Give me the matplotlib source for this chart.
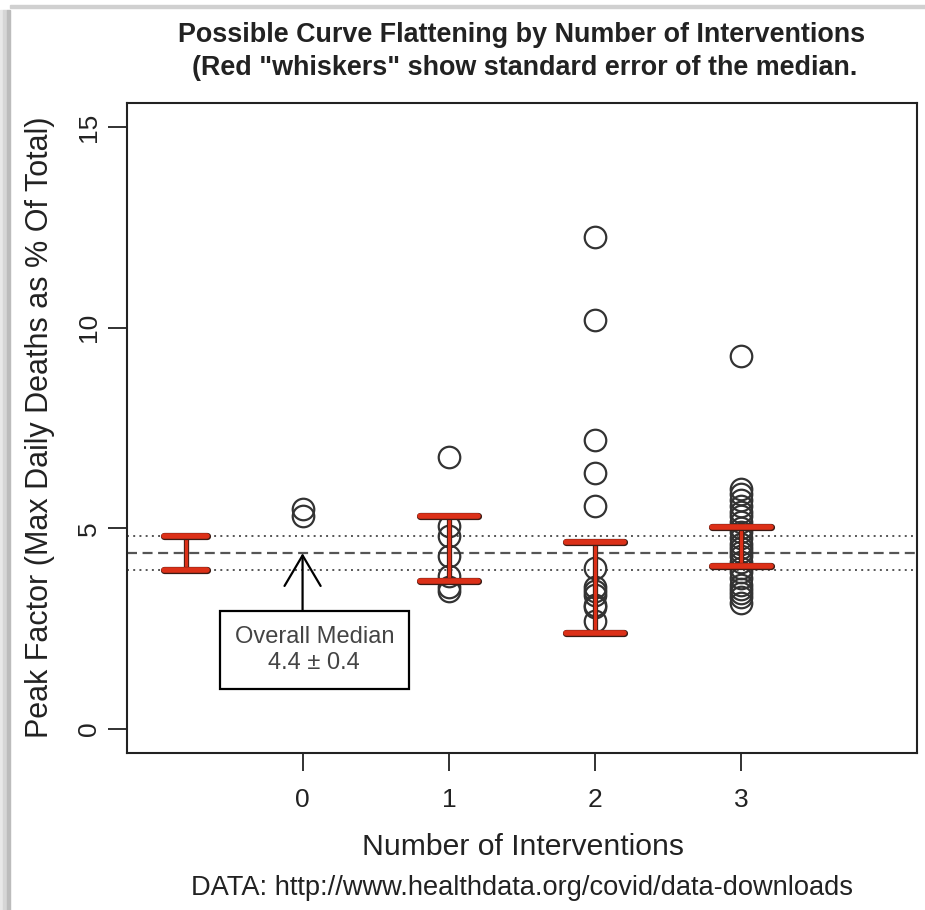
import matplotlib.pyplot as plt
import matplotlib.patheffects as pe
from matplotlib.patches import Rectangle

# peak factor per country, grouped by number of interventions
group_ids = [0, 1, 2, 3]
peak_0 = [5.48, 5.3]
peak_1 = [6.78, 5.05, 4.8, 4.3, 3.8, 3.55, 3.45]
peak_2 = [12.25, 10.2, 7.2, 6.38, 5.55, 4.0, 3.55, 3.45, 3.35, 3.1, 3.05, 2.7]
peak_3 = [9.3, 5.98, 5.85, 5.7, 5.55, 5.4, 5.3, 5.15, 5.0, 4.9, 4.75, 4.6,
          4.5, 4.4, 4.3, 4.15, 4.0, 3.9, 3.75, 3.6, 3.5, 3.4, 3.3, 3.15]

# standard error of the median (red whiskers)
whisk_groups = [1, 2, 3]
whisk_low = [3.68, 2.4, 4.05]
whisk_high = [5.3, 4.65, 5.03]

overall_x = -0.8
overall_median = 4.38
overall_low = 3.95
overall_high = 4.8

y_ticks = [0, 5, 10, 15]

plt.rcParams['font.family'] = ['Liberation Sans', 'DejaVu Sans']

fig = plt.figure(figsize=(9.25, 9.1), dpi=100)
ax = fig.add_axes([0.1373, 0.1725, 0.8541, 0.7143])

# reference lines for the overall median
ax.axhline(overall_median, color='#555555', lw=1.6, ls=(0, (4.5, 2.5)), zorder=1)
ax.axhline(overall_low, color='#555555', lw=1.4, ls=(0, (1, 2.2)), zorder=1)
ax.axhline(overall_high, color='#555555', lw=1.4, ls=(0, (1, 2.2)), zorder=1)

# points
for gid, vals in zip(group_ids, [peak_0, peak_1, peak_2, peak_3]):
    ax.plot([gid] * len(vals), vals, 'o', ms=15.5, mfc='none', mec='#333333', mew=1.6, zorder=2)

# red whiskers
red = '#dc3018'
edge = '#3b1b14'
wx = whisk_groups + [overall_x]
wlo = whisk_low + [overall_low]
whi = whisk_high + [overall_high]
cap_half = [0.2, 0.2, 0.2, 0.145]

ax.vlines(wx, wlo, whi, color=red, lw=2.4, zorder=3,
          path_effects=[pe.Stroke(linewidth=3.8, foreground=edge), pe.Normal()])
for ys in (wlo, whi):
    caps = ax.hlines(ys, [x - c for x, c in zip(wx, cap_half)], [x + c for x, c in zip(wx, cap_half)],
                     color=red, lw=4.0, zorder=4,
                     path_effects=[pe.Stroke(linewidth=5.2, foreground=edge, capstyle='round'),
                                   pe.Normal()])
    caps.set_capstyle('round')

# annotation
ax.annotate('', xy=(0, overall_median), xytext=(0, 2.97),
            arrowprops=dict(arrowstyle='->,head_length=1.1,head_width=0.65', lw=1.6,
                            color='black', shrinkA=0, shrinkB=0, mutation_scale=20))
se = (overall_high - overall_low) / 2
ax.text(0.08, 1.97, f"Overall Median\n{overall_median:.1f} \u00b1 {se:.1f}", ha='center', va='center',
        fontsize=17, color='#444444', linespacing=1.25, zorder=5,
        bbox=dict(boxstyle='square,pad=0.62', fc='white', ec='black', lw=1.6))

# axes
ax.set_xlim(-1.2, 4.2)
ax.set_ylim(-0.6, 15.6)
ax.set_xticks(group_ids)
ax.set_yticks(y_ticks)
ax.tick_params(axis='y', length=13.7, width=1.3, pad=5, labelsize=19, labelrotation=90, colors='#222222')
ax.tick_params(axis='x', length=13, width=1.3, pad=12, labelsize=19, colors='#222222')
for lbl in ax.get_yticklabels():
    lbl.set_va('center')
for s in ax.spines.values():
    s.set_linewidth(1.5)
    s.set_color('#222222')

fig.text(40 / 925, 1 - 427 / 910, "Peak Factor (Max Daily Deaths as % Of Total)", rotation=90,
         ha='center', va='center', fontsize=22, color='#222222')
fig.text(523 / 925, 1 - 847 / 910, "Number of Interventions", ha='center', va='center',
         fontsize=21.7, color='#222222')
fig.text(522 / 925, 1 - 888 / 910, "DATA: http://www.healthdata.org/covid/data-downloads",
         ha='center', va='center', fontsize=19.6, color='#222222')
fig.text(522 / 925, 1 - 35 / 910, "Possible Curve Flattening by Number of Interventions",
         ha='center', va='center', fontsize=19.4, fontweight='bold', color='#222222')
fig.text(525 / 925, 1 - 68 / 910, '(Red "whiskers" show standard error of the median.',
         ha='center', va='center', fontsize=19.4, fontweight='bold', color='#222222')

# screenshot shadow on the left and top edges
for x0, x1, c in [(0, 3, '#e8e8e8'), (3, 7, '#d6d6d6'), (7, 10, '#bcbcbc')]:
    fig.patches.append(Rectangle((x0 / 925, 0), (x1 - x0) / 925, 1 - 10 / 910,
                                 transform=fig.transFigure, color=c, zorder=0))
fig.patches.append(Rectangle((10 / 925, 1 - 8 / 910), 1, 3 / 910,
                             transform=fig.transFigure, color='#d0d0d0', zorder=0))

fig.savefig('out.png', dpi=100)
